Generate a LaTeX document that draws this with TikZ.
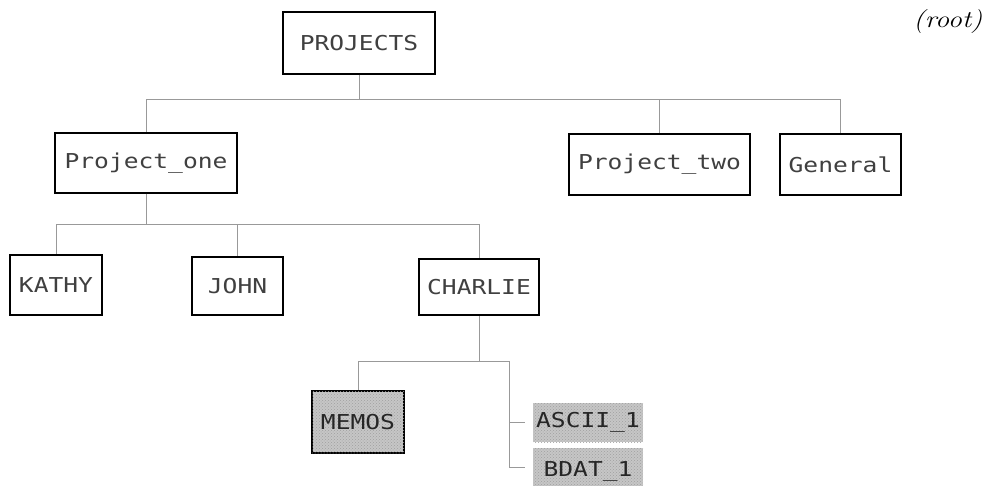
\documentclass[tikz,border=0pt]{standalone}
\usepackage{fontspec}
\usetikzlibrary{patterns}
\newfontfamily\plotfont[FakeStretch=1.2]{DejaVu Sans Mono}
\begin{document}
\begin{tikzpicture}[x=1pt,y=-1pt,
  dirbox/.style={draw=black, line width=2pt, fill=white, inner sep=0pt,
    font=\plotfont\fontsize{20.5}{22}\selectfont, text=black!75},
  shadebox/.style={inner sep=0pt, fill=gray!45,
    postaction={pattern=crosshatch dots, pattern color=gray!75},
    font=\plotfont\fontsize{20.5}{22}\selectfont, text=black!85},
  link/.style={draw=gray!80, line width=0.9pt}]
\useasboundingbox (0,0) rectangle (987,486);
\begin{scope}
\clip (0,0) rectangle (987,486);
% nodes
\node[dirbox, minimum width=152pt, minimum height=62pt] (projects) at (359,43) {PROJECTS};
\node[dirbox, minimum width=182pt, minimum height=60pt] (p1) at (146,163) {Project\_one};
\node[dirbox, minimum width=181pt, minimum height=61pt] (p2) at (659.5,164.5) {Project\_two};
\node[dirbox, minimum width=121pt, minimum height=61pt] (gen) at (840.5,164.5) {General};
\node[dirbox, minimum width=92pt, minimum height=60pt] (kathy) at (56,285) {KATHY};
\node[dirbox, minimum width=91pt, minimum height=58pt] (john) at (237.5,286) {JOHN};
\node[dirbox, minimum width=120pt, minimum height=56pt] (charlie) at (479,287) {CHARLIE};
\node[shadebox, draw=black, line width=2.6pt, minimum width=92pt, minimum height=62pt] (memos) at (358,422) {MEMOS};
\node[shadebox, minimum width=110pt, minimum height=39pt] (ascii) at (588,422.5) {ASCII\_1};
\node[shadebox, minimum width=110pt, minimum height=42pt, text depth=0pt] (bdat) at (588,469) {BDAT\_1};
\node[font=\itshape\fontsize{24}{26}\selectfont, xscale=1.18, transform shape] (root) at (948,22) {(root)};
% connectors
\coordinate (bus1) at (0,99);
\coordinate (bus2) at (0,224);
\coordinate (bus3) at (0,361);
\coordinate (split) at (509,361);
\draw[link] (projects.south) |- (p1.north |- bus1) -- (p1.north);
\draw[link] (projects.south) |- (p2.north |- bus1) -- (p2.north);
\draw[link] (projects.south) |- (gen.north |- bus1) -- (gen.north);
\draw[link] (p1.south) |- (kathy.north |- bus2) -- (kathy.north);
\draw[link] (p1.south) |- (john.north |- bus2) -- (john.north);
\draw[link] (p1.south) |- (charlie.north |- bus2) -- (charlie.north);
\draw[link] (charlie.south) |- (memos.north |- bus3) -- (memos.north);
\draw[link] (charlie.south) |- (split);
\draw[link] (split) |- ([xshift=-8pt]ascii.west);
\draw[link] (split) |- ([xshift=-8pt,yshift=2pt]bdat.west);
\end{scope}
\end{tikzpicture}
\end{document}
